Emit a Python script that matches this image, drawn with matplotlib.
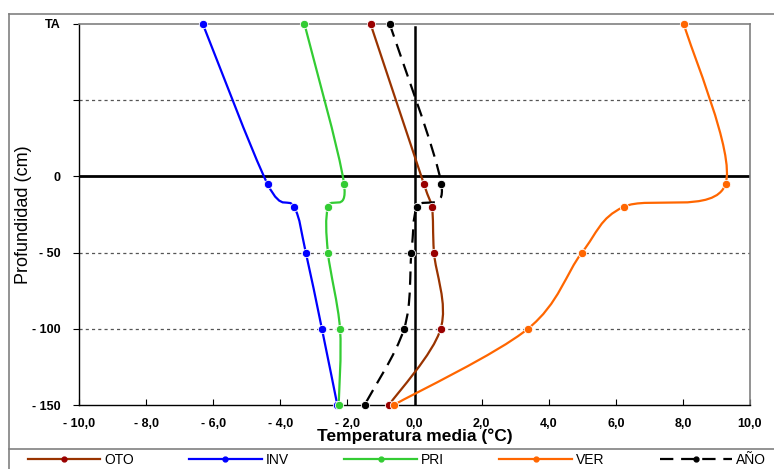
import numpy as np
import matplotlib
matplotlib.use('Agg')
import matplotlib.pyplot as plt
from matplotlib.path import Path
from matplotlib.patches import PathPatch
from matplotlib.lines import Line2D

plt.rcParams['font.family'] = ['Liberation Sans', 'DejaVu Sans']

# profundidad (cm); TA = temperatura del aire, dibujada en 100
prof = [100, -5, -20, -50, -100, -150]

oto = [-1.31, 0.28, 0.52, 0.58, 0.78, -0.76]
inv = [-6.31, -4.38, -3.59, -3.24, -2.76, -2.30]
pri = [-3.28, -2.10, -2.58, -2.58, -2.22, -2.26]
ver = [8.03, 9.27, 6.23, 4.99, 3.38, -0.62]
ano = [-0.74, 0.80, 0.08, -0.09, -0.31, -1.49]

series = [
  ('OTO', oto, '#993300', '#990000', '-'),
  ('INV', inv, '#0000FF', '#0000FF', '-'),
  ('PRI', pri, '#33CC33', '#33CC33', '-'),
  ('VER', ver, '#FF6600', '#FF6600', '-'),
  ('AÑO', ano, '#000000', '#000000', (0, (6, 3.5))),
]

yticks = [-150, -100, -50, 0, 50, 100]
ylabels = ['- 150', '- 100', '- 50', '0', '', 'TA']
xticks = [-10, -8, -6, -4, -2, 0, 2, 4, 6, 8, 10]
xlabels = ['- 10,0', '- 8,0', '- 6,0', '- 4,0', '- 2,0', '0,0', '2,0', '4,0', '6,0', '8,0', '10,0']


def smooth_path(xs, ys):
  pts = np.column_stack([xs, ys]).astype(float)
  n = len(pts)
  verts = [pts[0]]
  codes = [Path.MOVETO]
  for i in range(n - 1):
    p0 = pts[i - 1] if i > 0 else pts[i]
    p3 = pts[i + 2] if i + 2 < n else pts[i + 1]
    c1 = pts[i] + (pts[i + 1] - p0) / 6
    c2 = pts[i + 1] - (p3 - pts[i]) / 6
    verts += [c1, c2, pts[i + 1]]
    codes += [Path.CURVE4] * 3
  return Path(verts, codes)


fig = plt.figure(figsize=(7.74, 4.69), dpi=100)
ax = fig.add_axes([79 / 774, 1 - 405 / 469, (750 - 79) / 774, (405 - 24) / 469])

ax.set_xlim(-10, 10)
ax.set_ylim(-150, 100)

for g in [50, -50, -100]:
  ax.axhline(g, color='#555555', lw=0.9, ls=(0, (2.5, 2.5)), zorder=1)
ax.axhline(0, color='black', lw=2, zorder=2)
ax.plot([0, 0], [-150, 98], color='black', lw=1.8, zorder=2)

handles = []
for name, vals, lc, mc, ls in series:
  patch = PathPatch(smooth_path(vals, prof), facecolor='none', edgecolor=lc,
                    lw=1.6, ls=ls, zorder=3, capstyle='butt')
  ax.add_patch(patch)
  ax.plot(vals, prof, ls='none', marker='o', ms=6, mfc=mc, mec='white',
          mew=0.6, zorder=4, clip_on=False)
  handles.append(Line2D([], [], color=lc, lw=1.6, ls=ls, marker='o', ms=3.5,
                        mfc=mc, mec=mc))

ax.set_xticks(xticks)
ax.set_xticklabels(xlabels, fontsize=9, fontweight='bold')
ax.set_yticks(yticks)
ax.set_yticklabels(ylabels, fontsize=9, fontweight='bold')
ax.tick_params(axis='x', direction='in', length=4, pad=9)
ax.tick_params(axis='y', direction='out', length=4, pad=9)

ax.set_xlabel('Temperatura media (°C)', fontsize=12.5, fontweight='bold', labelpad=-1)
ax.set_ylabel('Profundidad (cm)', fontsize=13, labelpad=0)

for s in ['top', 'right']:
  ax.spines[s].set_color('#808080')
  ax.spines[s].set_linewidth(1.2)
for s in ['left', 'bottom']:
  ax.spines[s].set_color('black')
  ax.spines[s].set_linewidth(1)

# marco exterior y separador de leyenda
fig.add_artist(Line2D([9 / 774, 1], [1 - 14 / 469, 1 - 14 / 469], color='#808080', lw=1.2))
fig.add_artist(Line2D([9 / 774, 9 / 774], [0, 1 - 14 / 469], color='#808080', lw=1.2))
fig.add_artist(Line2D([9 / 774, 1], [1 - 449 / 469, 1 - 449 / 469], color='#808080', lw=1.2))

fig.legend(handles, [s[0] for s in series], loc='center', bbox_to_anchor=(397 / 774, 1 - 460 / 469),
           ncol=5, frameon=False, fontsize=10, handlelength=5.2, handletextpad=0.3,
           columnspacing=4.0, borderpad=0, numpoints=1)

fig.savefig('out.png', dpi=100)
